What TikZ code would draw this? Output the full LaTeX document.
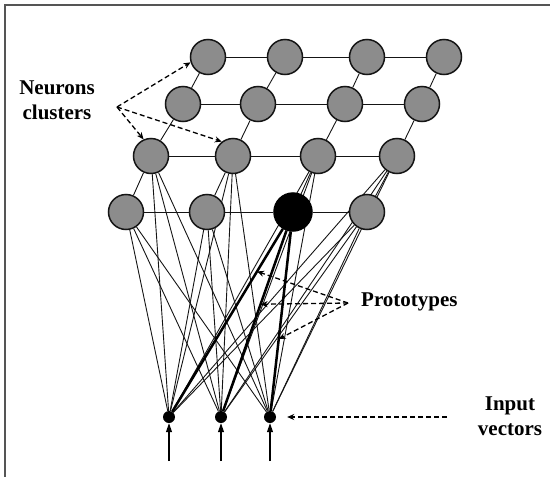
\documentclass[tikz,border=0pt]{standalone}
\usepackage{fontspec}
\setmainfont{Liberation Serif}
\usepackage{tikz}
\usetikzlibrary{calc,arrows.meta,backgrounds}
\definecolor{cell}{HTML}{8C8C8C}
\definecolor{ink}{HTML}{151515}
\definecolor{rim}{HTML}{555555}
\tikzset{
  neuron/.style={circle, draw=ink, fill=cell, line width=1.5pt, minimum size=35pt, inner sep=0pt},
  winner/.style={neuron, fill=black, draw=black, minimum size=38pt},
  inp/.style={circle, fill=black, minimum size=12pt, inner sep=0pt},
  grid/.style={draw=ink, line width=0.9pt},
  wire/.style={draw=ink, line width=0.9pt},
  heavy/.style={draw=black, line width=2.5pt},
  point/.style={draw=black, line width=1.3pt, dash pattern=on 5pt off 3pt, -{Stealth[length=7pt,width=6pt]}},
  feed/.style={draw=black, line width=1.1pt, -{Triangle[length=9pt,width=6pt]}},
  frame/.style={draw=rim, line width=1.5pt},
  lab/.style={font=\bfseries\fontsize{21}{25}\selectfont, align=center, inner sep=1pt},
}
\begin{document}
\begin{tikzpicture}[x=1pt,y=-1pt]
  \useasboundingbox (0,0) rectangle (550,477);
  \draw[frame] (5,482) -- (5,5) -- (553,5);
  % map of neurons
  \foreach \r/\y/\xs in {1/57/{208,285,367,444},2/104/{183,258,345,422},3/156/{151,233,318,397}}
    \foreach \x [count=\c] in \xs
      \node[neuron] (n\r\c) at (\x,\y) {};
  \node[neuron] (n41) at (126,212) {};
  \node[neuron] (n42) at (207,212) {};
  \node[winner] (n43) at (293,212) {};
  \node[neuron] (n44) at (367,212) {};
  % inputs
  \node[inp] (i1) at (169,417) {};
  \node[inp] (i2) at (221,417) {};
  \node[inp] (i3) at (270,417) {};
  \begin{pgfonlayer}{background}
    \foreach \r in {1,...,4}
      \foreach \c/\d in {1/2,2/3,3/4}
        \draw[grid] (n\r\c) -- (n\r\d);
    \foreach \r/\s in {1/2,2/3,3/4}
      \foreach \c in {1,...,4}
        \draw[grid] (n\r\c) -- (n\s\c);
    \foreach \r in {3,4}
      \foreach \c in {1,...,4}
        \foreach \k in {1,2,3}
          \draw[wire] (n\r\c) -- (i\k);
    \foreach \k in {1,2,3}
      \draw[heavy] (n43) -- (i\k);
  \end{pgfonlayer}
  % feeding arrows
  \foreach \k/\x in {1/169,2/221,3/270} {
    \coordinate (a\k) at (\x,461);
    \draw[feed] (a\k) -- (i\k);
  }
  % labels
  \node[lab] (clus) at (57,100) {Neurons\\clusters};
  \coordinate (ct) at (117,107);
  \draw[point] (ct) -- (n11.197);
  \draw[point] (ct) -- (n31.114);
  \draw[point] (ct) -- (n32.128);
  \node[lab, anchor=west] (proto) at (360,302) {Prototypes};
  \coordinate (pt) at (348,303);
  \coordinate (p1) at ($(n43)!0.29!(i1)$);
  \coordinate (p2) at ($(n43)!0.45!(i2)$);
  \coordinate (p3) at ($(n43)!0.62!(i3)$);
  \foreach \k in {1,2,3}
    \draw[point] (pt) -- (p\k);
  \node[lab] (vec) at (510,416) {Input\\vectors};
  \coordinate (iv) at (447,417);
  \draw[point, shorten >=11pt] (iv) -- (i3);
\end{tikzpicture}
\end{document}
